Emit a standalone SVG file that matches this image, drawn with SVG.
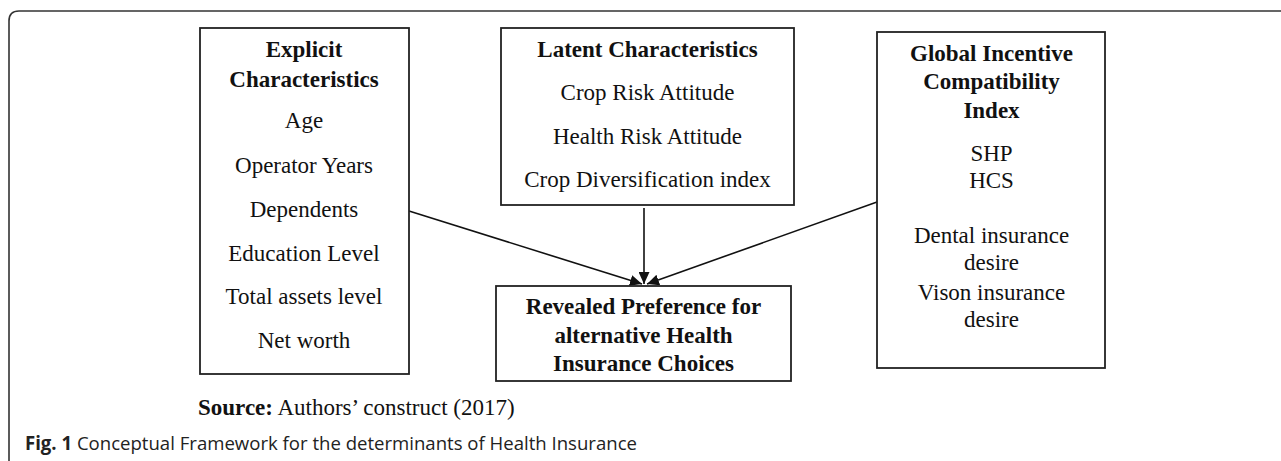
<svg xmlns="http://www.w3.org/2000/svg" width="1281" height="461" viewBox="0 0 1281 461">
  <style>
    .box { fill: #fff; stroke: #222; stroke-width: 1.8; }
    .t { font-family: "Liberation Serif", "Times New Roman", serif; font-size: 23px; fill: #111; text-anchor: middle; }
    .b { font-weight: bold; }
    .conn { stroke: #111; stroke-width: 1.6; fill: none; marker-end: url(#ah); }
    .frame { fill: none; stroke: #333; stroke-width: 1.6; }
    .cap { font-family: "Open Sans", "Noto Sans", sans-serif; font-size: 19px; fill: #222; }
  </style>
  <defs>
    <marker id="ah" markerUnits="userSpaceOnUse" markerWidth="12" markerHeight="11" refX="12" refY="5.5" orient="auto">
      <path d="M0,0 L12,5.5 L0,11 z" fill="#111"/>
    </marker>
  </defs>
  <rect width="1281" height="461" fill="#fff"/>
  <path class="frame" d="M9,461 V21 Q9,11 19,11 H1281"/>

  <g id="connectors">
    <line class="conn" x1="409" y1="211" x2="642" y2="284"/>
    <line class="conn" x1="644" y1="208" x2="644" y2="284"/>
    <line class="conn" x1="877" y1="202" x2="647" y2="284"/>
  </g>

  <g id="explicit">
    <rect class="box" x="200" y="28" width="209" height="346"/>
    <text class="t b" x="304" y="57">Explicit</text>
    <text class="t b" x="304" y="87">Characteristics</text>
    <text class="t" x="304" y="128">Age</text>
    <text class="t" x="304" y="173">Operator Years</text>
    <text class="t" x="304" y="217">Dependents</text>
    <text class="t" x="304" y="261">Education Level</text>
    <text class="t" x="304" y="304">Total assets level</text>
    <text class="t" x="304" y="348">Net worth</text>
  </g>

  <g id="latent">
    <rect class="box" x="501" y="28" width="293" height="177"/>
    <text class="t b" x="647.5" y="57">Latent Characteristics</text>
    <text class="t" x="647.5" y="100">Crop Risk Attitude</text>
    <text class="t" x="647.5" y="144">Health Risk Attitude</text>
    <text class="t" x="647.5" y="187">Crop Diversification index</text>
  </g>

  <g id="revealed">
    <rect class="box" x="496" y="286" width="295" height="95"/>
    <text class="t b" x="643.5" y="314">Revealed Preference for</text>
    <text class="t b" x="643.5" y="343">alternative Health</text>
    <text class="t b" x="643.5" y="371">Insurance Choices</text>
  </g>

  <g id="global">
    <rect class="box" x="877" y="32" width="228" height="336"/>
    <text class="t b" x="991.5" y="61">Global Incentive</text>
    <text class="t b" x="991.5" y="89">Compatibility</text>
    <text class="t b" x="991.5" y="118">Index</text>
    <text class="t" x="991.5" y="161">SHP</text>
    <text class="t" x="991.5" y="188">HCS</text>
    <text class="t" x="991.5" y="243">Dental insurance</text>
    <text class="t" x="991.5" y="270">desire</text>
    <text class="t" x="991.5" y="300">Vison insurance</text>
    <text class="t" x="991.5" y="327">desire</text>
  </g>

  <g id="source">
    <text class="t" x="198" y="415" style="text-anchor:start"><tspan class="b" font-weight="bold">Source:</tspan> Authors’ construct (2017)</text>
  </g>

  <g id="caption">
    <text class="cap" x="25" y="450" textLength="612" lengthAdjust="spacingAndGlyphs"><tspan font-weight="bold">Fig. 1</tspan> Conceptual Framework for the determinants of Health Insurance</text>
  </g>
</svg>
